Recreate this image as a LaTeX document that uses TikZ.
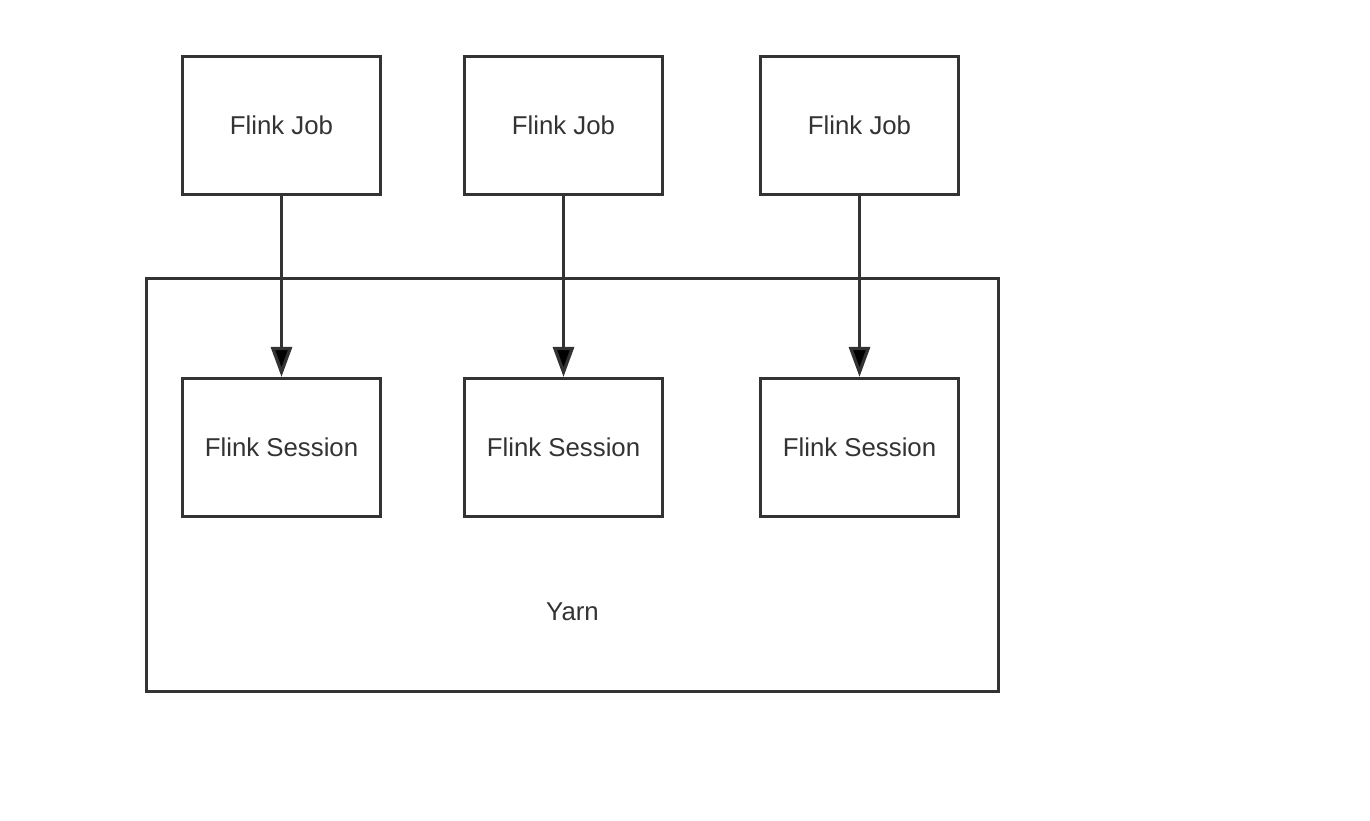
\documentclass[tikz,border=0pt]{standalone}
\usepackage{fontspec}
\setmainfont{Liberation Sans}
\usetikzlibrary{arrows.meta,positioning}

\definecolor{linegray}{HTML}{333333}

\begin{document}
\begin{tikzpicture}[x=0.5pt,y=-0.5pt,node distance=161pt,on grid,
        box/.style={draw=linegray,line width=1.6pt,minimum width=99pt,minimum height=69pt,
            font=\fontsize{12.9}{15}\selectfont,text=linegray},
        link/.style={draw=linegray,line width=1.6pt,-{Triangle[length=15pt,width=10.5pt]}}]
        \useasboundingbox (0,0) rectangle (1370,820);
        \node[box,minimum width=426pt,minimum height=206.5pt] (yarn) at (572.5,485) {};
        \node[font=\fontsize{12.9}{15}\selectfont,text=linegray] (yarn_l) at (572.5,612) {Yarn};
        \node[box] (job_1) at (281.5,125.5) {Flink Job};
        \node[box] (job_2) at (563.5,125.5) {Flink Job};
        \node[box] (job_3) at (859.5,125.5) {Flink Job};
        \node[box] (sess_1) [below=of job_1] {Flink Session};
        \node[box] (sess_2) [below=of job_2] {Flink Session};
        \node[box] (sess_3) [below=of job_3] {Flink Session};
        \path[link]
        (job_1) edge (sess_1)
        (job_2) edge (sess_2)
        (job_3) edge (sess_3)
        ;
    \end{tikzpicture}
\end{document}
